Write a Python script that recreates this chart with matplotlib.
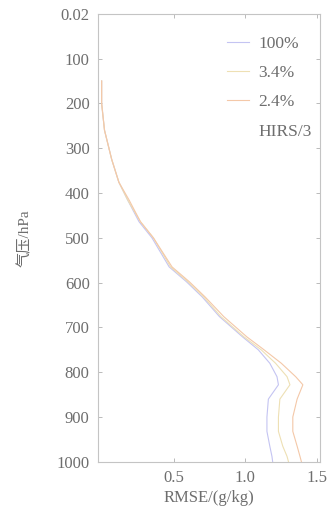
import matplotlib
matplotlib.use("Agg")
import matplotlib.pyplot as plt
from matplotlib.lines import Line2D

# pressure levels (hPa) and RMSE (g/kg)
pres = [150, 200, 260, 325, 376, 415, 464, 500, 565, 598, 632, 676, 721, 750,
        780, 810, 828, 860, 900, 932, 965, 988, 1000]
rmse_100 = [0.0, 0.0, 0.02, 0.07, 0.12, 0.18, 0.26, 0.35, 0.47, 0.59, 0.70, 0.82, 0.98, 1.09,
            1.17, 1.22, 1.23, 1.16, 1.15, 1.15, 1.17, 1.185, 1.19]
rmse_34 = [0.0, 0.0, 0.02, 0.07, 0.12, 0.18, 0.27, 0.36, 0.48, 0.60, 0.71, 0.83, 0.99, 1.11,
           1.21, 1.29, 1.31, 1.24, 1.23, 1.23, 1.26, 1.29, 1.30]
rmse_24 = [0.0, 0.0, 0.02, 0.07, 0.12, 0.19, 0.27, 0.36, 0.49, 0.61, 0.72, 0.85, 1.01, 1.13,
           1.25, 1.35, 1.40, 1.36, 1.33, 1.33, 1.36, 1.38, 1.39]
labels = ['100%', '3.4%', '2.4%']
colors = ['#c4c4f2', '#eee0b4', '#f4c8a8']
yticks = [0.02, 100, 200, 300, 400, 500, 600, 700, 800, 900, 1000]
ytick_labels = ['0.02', '100', '200', '300', '400', '500', '600', '700', '800', '900', '1000']
xticks = [0.5, 1.0, 1.5]

plt.rcParams['font.family'] = ['Liberation Serif', 'Noto Sans CJK SC']
grey = '#6e6e6e'

fig = plt.figure(figsize=(3.29, 5.12), dpi=100)
ax = fig.add_axes([0.298, 0.098, 0.675, 0.875])

for vals, lab, c in zip([rmse_100, rmse_34, rmse_24], labels, colors):
    ax.plot(vals, pres, color=c, lw=0.8, label=lab)

ax.set_ylim(1000, 0.02)
ax.set_xlim(-0.025, 1.52)
ax.set_yticks(yticks)
ax.set_yticklabels(ytick_labels)
ax.set_xticks(xticks)
ax.set_xticklabels(['0.5', '1.0', '1.5'])
ax.tick_params(direction='in', top=True, right=True, length=3, width=0.6,
               colors='#b0b0b0', labelcolor=grey, labelsize=12, pad=6)
for s in ax.spines.values():
    s.set_color('#c4c4c4')
    s.set_linewidth(0.8)

ax.set_ylabel('气压/hPa', color=grey, fontsize=11, labelpad=18)
ax.set_xlabel('RMSE/(g/kg)', color=grey, fontsize=12, labelpad=3)

handles, labs = ax.get_legend_handles_labels()
handles.append(Line2D([], [], color='none'))
labs.append('HIRS/3')
leg = ax.legend(handles, labs, loc='upper right', frameon=False, fontsize=12.5,
                handlelength=1.3, labelspacing=0.75, handletextpad=0.5,
                borderaxespad=0.1, bbox_to_anchor=(1.0, 0.97))
for t in leg.get_texts():
    t.set_color(grey)

fig.savefig('out.png', dpi=100, facecolor='white')
